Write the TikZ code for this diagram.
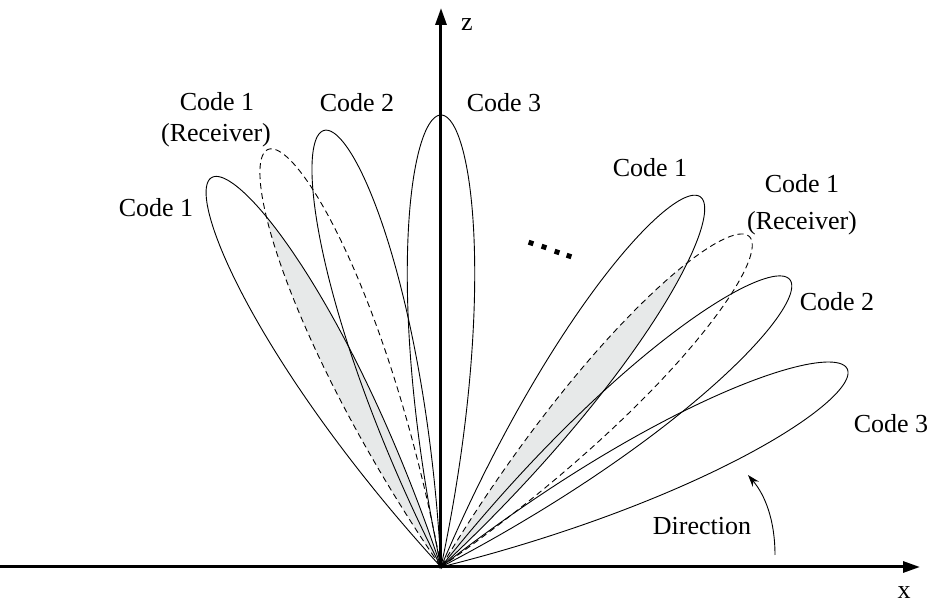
\documentclass[tikz,border=0pt]{standalone}
\usepackage{fontspec}
\setmainfont{Liberation Serif}
\usetikzlibrary{arrows.meta}
\begin{document}
\begin{tikzpicture}[x=1pt,y=1pt,
  lbl/.style={font=\fontsize{26}{30}\selectfont, anchor=base, inner sep=0pt},
  lobe/.style={line width=0.9pt},
  dashlobe/.style={line width=0.9pt, dash pattern=on 6pt off 4pt},
  axis/.style={line width=3pt, -{Triangle[length=17pt,width=11pt]}},
  dirarrow/.style={line width=0.9pt, -{Stealth[length=12pt,width=8pt]}},
  overlap/.style={fill={rgb,255:red,231;green,233;blue,233}},
  dotsq/.style={fill=black, minimum size=5pt, inner sep=0pt, rotate=-18}]
\useasboundingbox (-441,-38) rectangle (489,567);
\newcommand{\lobeat}[1]{plot[domain=-12:12,samples=121,smooth] ({#1+\x}:{452*cos(7.5*\x)}) -- cycle}
% overlaps
\begin{scope}
  \clip \lobeat{120.5};
  \path[overlap] \lobeat{112.5};
\end{scope}
\begin{scope}
  \clip \lobeat{55};
  \path[overlap] \lobeat{47};
\end{scope}
% lobes
\draw[lobe] \lobeat{90};
\draw[lobe] \lobeat{105};
\draw[dashlobe] \lobeat{112.5};
\draw[lobe] \lobeat{120.5};
\draw[lobe] \lobeat{55};
\draw[dashlobe] \lobeat{47};
\draw[lobe] \lobeat{39.5};
\draw[lobe] \lobeat{26};
% axes
\coordinate (O) at (0,0);
\coordinate (xstart) at (-441,0);
\coordinate (xend) at (479,0);
\coordinate (zend) at (0,559);
\draw[axis] (xstart) -- (xend);
\draw[axis] (O) -- (zend);
\node[lbl] (xl) at (463,-32) {x};
\node[lbl] (zl) at (26,536) {z};
% labels
\node[lbl] (c1l) at (-285,350) {Code 1};
\node[lbl] (c1rl) at (-224,456) {Code 1};
\node[lbl] (recl) at (-225,425) {(Receiver)};
\node[lbl] (c2l) at (-84,455) {Code 2};
\node[lbl] (c3t) at (63,455) {Code 3};
\node[lbl] (c1r) at (209,390) {Code 1};
\node[lbl] (c1rr) at (361,374) {Code 1};
\node[lbl] (recr) at (361,337) {(Receiver)};
\node[lbl] (c2r) at (396,256) {Code 2};
\node[lbl] (c3r) at (450,134) {Code 3};
\node[lbl] (dir) at (261,32) {Direction};
% direction arrow
\coordinate (da) at (334,12);
\coordinate (db) at (307,92);
\draw[dirarrow] (da) .. controls (334,47) and (324,72) .. (db);
% dots
\node[dotsq] (d1) at (90,324) {};
\node[dotsq] (d2) at (103,320) {};
\node[dotsq] (d3) at (116,315) {};
\node[dotsq] (d4) at (128,311) {};
\end{tikzpicture}
\end{document}
